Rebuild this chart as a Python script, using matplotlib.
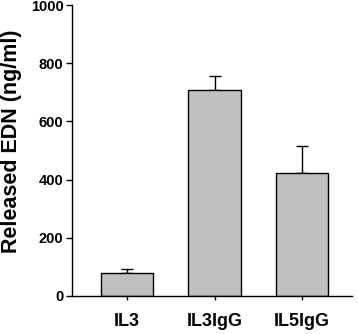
import matplotlib.pyplot as plt
import numpy as np

categories = ["IL3", "IL3IgG", "IL5IgG"]
released_edn = [78, 708, 424]
edn_err = [14, 48, 91]
y_ticks = [0, 200, 400, 600, 800, 1000]

plt.rcParams["font.family"] = ["Liberation Sans", "DejaVu Sans"]
plt.rcParams["font.weight"] = "bold"

fig = plt.figure(figsize=(3.58, 3.34), dpi=100)
ax = fig.add_axes([0.201, 0.114, 0.782, 0.871])

x = np.arange(len(categories))
ax.bar(x, released_edn, width=0.6, color="#c0c0c0", edgecolor="black", linewidth=1.0, zorder=2)
ax.errorbar(x, released_edn, yerr=[np.zeros(len(edn_err)), edn_err], fmt="none",
            ecolor="black", elinewidth=1.0, capsize=4.5, capthick=1.0, zorder=1)

ax.set_xlim(-0.63, 2.57)
ax.set_ylim(0, 1000)
ax.set_yticks(y_ticks)
ax.set_xticks(x)
ax.set_xticklabels(categories, fontsize=13, fontweight="bold")
ax.tick_params(axis="y", labelsize=10.5, length=4, width=1, direction="out", pad=2)
ax.tick_params(axis="x", length=3, width=1, direction="out", pad=9)
ax.set_ylabel("Released EDN (ng/ml)", fontsize=15.5, fontweight="bold")
ax.yaxis.set_label_coords(-0.18, 0.533)

for side in ("top", "right"):
    ax.spines[side].set_visible(False)
for side in ("left", "bottom"):
    ax.spines[side].set_linewidth(1.0)

fig.savefig("out.png", dpi=100)
